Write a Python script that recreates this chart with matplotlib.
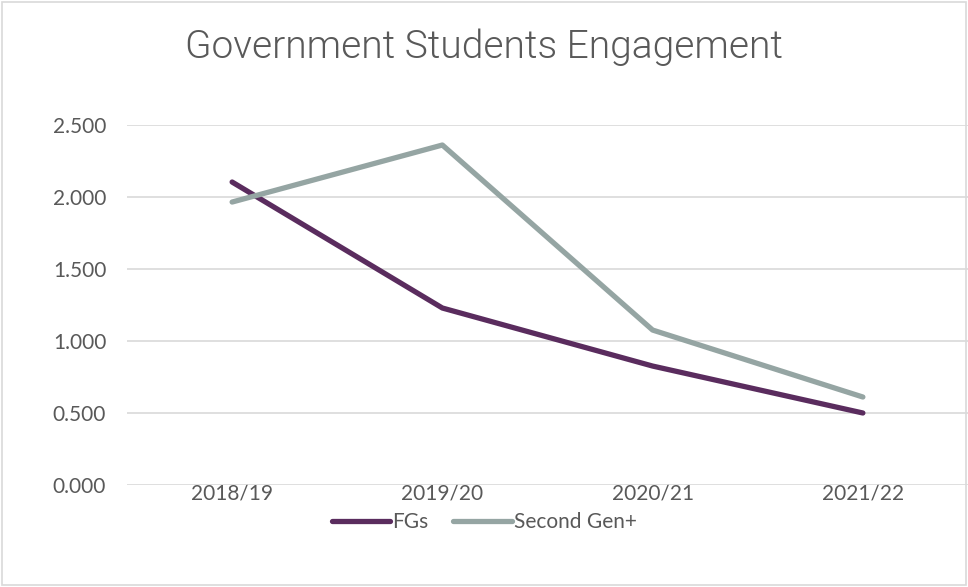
import numpy as np
import matplotlib.pyplot as plt
from matplotlib.patches import Rectangle

years = ["2018/19", "2019/20", "2020/21", "2021/22"]
fgs = [2.104, 1.229, 0.826, 0.500]
second_gen = [1.965, 2.361, 1.076, 0.611]

plt.rcParams['font.family'] = ['Lato', 'DejaVu Sans']

fig = plt.figure(figsize=(9.68, 5.87), dpi=100)
ax = fig.add_axes([127 / 968, 1 - 485 / 587, (968 - 127) / 968, 360 / 587])

x = np.arange(len(years))
ax.plot(x, fgs, color="#5A2C5E", lw=3.8, solid_capstyle="round", label="FGs", zorder=3)
ax.plot(x, second_gen, color="#95A5A3", lw=3.8, solid_capstyle="round", label="Second Gen+", zorder=3)

ax.set_xlim(-0.5, len(years) - 0.5)
ax.set_ylim(0, 2.5)
ax.set_yticks(np.arange(0, 2.51, 0.5))
ax.set_yticklabels([f"{v:.3f}" for v in np.arange(0, 2.51, 0.5)])
ax.set_xticks(x)
ax.set_xticklabels(years)
ax.tick_params(axis="both", length=0, labelsize=15, colors="#595959")
ax.tick_params(axis="y", pad=15)
ax.tick_params(axis="x", pad=-1)
ax.grid(axis="y", color="#D9D9D9", lw=1.2)
ax.set_axisbelow(True)
for s in ax.spines.values():
    s.set_visible(False)

fig.text(0.5, 1 - 47 / 587, "Government Students Engagement", ha="center", va="center",
         fontsize=28, color="#595959", family=["Roboto", "DejaVu Sans"], fontweight=300)

leg = fig.legend(loc="center", bbox_to_anchor=(0.5, 1 - 522 / 587), ncol=2, frameon=False,
                 fontsize=15, handlelength=2.8, handletextpad=0.1, columnspacing=1.2)
for t in leg.get_texts():
    t.set_color("#595959")

fig.patches.append(Rectangle((0.002, 0.003), 0.996, 0.994, transform=fig.transFigure,
                             fill=False, edgecolor="#D9D9D9", lw=1.2))

fig.savefig("out.png", dpi=100, facecolor="white")
